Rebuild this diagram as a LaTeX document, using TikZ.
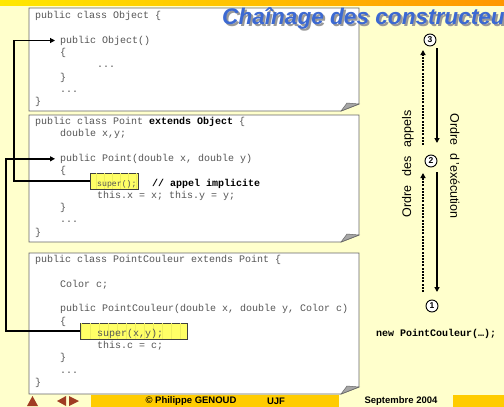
\documentclass[tikz,border=0pt]{standalone}
\usepackage{fontspec}
\setmainfont{Liberation Sans}
\setmonofont{Liberation Mono}
\usetikzlibrary{arrows.meta,calc}
\definecolor{bg}{RGB}{255,255,204}
\definecolor{topy}{RGB}{255,232,0}
\definecolor{topo}{RGB}{255,150,0}
\definecolor{footy}{RGB}{255,204,0}
\definecolor{codegray}{RGB}{85,85,85}
\definecolor{titleblue}{RGB}{60,105,210}
\definecolor{hlfill}{RGB}{255,255,102}
\definecolor{hlgrid}{RGB}{238,238,95}
\definecolor{navred}{RGB}{160,60,35}
\begin{document}
\begin{tikzpicture}[x=1pt,y=-1pt,
  code/.style={anchor=base west,inner sep=0pt,font=\ttfamily\fontsize{10}{12}\selectfont,text=codegray},
  codeb/.style={anchor=base west,inner sep=0pt,font=\ttfamily\bfseries\fontsize{10}{12}\selectfont,text=black},
  boxline/.style={draw=black!60,line width=0.9pt,fill=white},
  fold/.style={fill=black!35,draw=black!60,line width=0.5pt},
  hlbox/.style={draw=black!75,line width=0.8pt,fill=hlfill,inner sep=0pt},
  conn/.style={line width=1.6pt,-{Triangle[length=5pt,width=5pt]}},
  callarr/.style={line width=2pt,dash pattern=on 2pt off 1.2pt,-{Triangle[length=5pt,width=5pt]}},
  execarr/.style={line width=1.6pt,-{Triangle[length=5pt,width=5pt]}},
  num/.style={circle,draw,line width=0.9pt,fill=white,inner sep=0pt,minimum size=12pt,font=\bfseries\fontsize{8.5}{10}\selectfont},
  lbl/.style={inner sep=0pt,font=\fontsize{12.5}{14}\selectfont},
  titlefont/.style={anchor=base west,inner sep=0pt,font=\bfseries\itshape\fontsize{22.6}{26}\selectfont},
  foot/.style={inner sep=0pt,font=\bfseries\fontsize{9.5}{11}\selectfont}]
\useasboundingbox (0,0) rectangle (504,407);
\clip (0,0) rectangle (504,407);
\fill[bg] (0,0) rectangle (504,407);
\shade[left color=topy,right color=topo] (0,0) rectangle (504,5);

% code boxes
\draw[boxline] (29,8) -- (359,8) -- (359,104) -- (341,111) -- (29,111) -- cycle;
\draw[fold] (341,111) -- (359,104) -- (347,103) -- cycle;
\draw[boxline] (29,115) -- (359,115) -- (359,235) -- (341,242) -- (29,242) -- cycle;
\draw[fold] (341,242) -- (359,235) -- (347,234) -- cycle;
\draw[boxline] (29,253) -- (359,253) -- (359,387) -- (341,394) -- (29,394) -- cycle;
\draw[fold] (341,394) -- (359,387) -- (347,386) -- cycle;

% title (over box 1)
\node[titlefont,text=black!40] (titleshadow) at (224,26.5) {Chaînage des constructeurs};
\node[titlefont,text=titleblue] (title) at (222,24.5) {Chaînage des constructeurs};

% box 1
\node[code] (b1l1) at (35,18.5) {public class Object \{};
\node[code] (b1l2) at (60,43.1) {public Object()};
\node[code] (b1l3) at (60,55.4) {\{};
\node[code] (b1l4) at (97,67.7) {...};
\node[code] (b1l5) at (60,80) {\}};
\node[code] (b1l6) at (60,92.3) {...};
\node[code] (b1l7) at (35,104.5) {\}};

% box 2
\node[code] (b2l1) at (35,124.5) {public class Point \textbf{\textcolor{black}{extends Object}} \{};
\node[code] (b2l2) at (60,136.8) {double x,y;};
\node[code] (b2l3) at (60,161.4) {public Point(double x, double y)};
\node[code] (b2l4) at (60,173.7) {\{};
\node[hlbox,minimum width=48pt,minimum height=16pt] (hl2) at (114,181) {};
\draw[hlgrid,line width=0.3pt,step=8] ([shift={(0.5,-0.5)}]hl2.south west) grid ([shift={(-0.5,0.5)}]hl2.north east);
\node[anchor=base west,inner sep=0pt,font=\ttfamily\fontsize{8.2}{10}\selectfont,text=codegray] (sup2) at (97,186) {super();};
\node[codeb] (cmt) at (152,186) {// appel implicite};
\node[code] (b2l6) at (97,198.3) {this.x = x; this.y = y;};
\node[code] (b2l7) at (60,210.6) {\}};
\node[code] (b2l8) at (60,222.9) {...};
\node[code] (b2l9) at (35,235.2) {\}};

% box 3
\node[code] (b3l1) at (35,262.5) {public class PointCouleur extends Point \{};
\node[code] (b3l2) at (60,287.1) {Color c;};
\node[code] (b3l3) at (60,311.7) {public PointCouleur(double x, double y, Color c)};
\node[code] (b3l4) at (60,324) {\{};
\node[hlbox,minimum width=107pt,minimum height=16pt] (hl3) at (133.5,331) {};
\draw[hlgrid,line width=0.3pt,step=9] ([shift={(0.5,-0.5)}]hl3.south west) grid ([shift={(-0.5,0.5)}]hl3.north east);
\node[code] (sup3) at (97,336.3) {super(x,y);};
\node[code] (b3l6) at (97,348.6) {this.c = c;};
\node[code] (b3l7) at (60,360.9) {\}};
\node[code] (b3l8) at (60,373.2) {...};
\node[code] (b3l9) at (35,385.5) {\}};

% connectors
\coordinate (k1) at (14,0);
\coordinate (k2) at (6,0);
\draw[conn] (hl2.west) -- (hl2.west -| k1) |- ([xshift=-5pt]b1l2.west);
\draw[conn] (hl3.west) -- (hl3.west -| k2) |- ([xshift=-5pt]b2l3.west);

% order diagram
\node[num] (n3) at (430,40) {3};
\node[num] (n2) at (431,161) {2};
\node[num] (n1) at (432,306) {1};
\draw[callarr] ([shift={(-9,-14)}]n1.center) -- ([shift={(-8,12)}]n2.center);
\draw[callarr] ([shift={(-8,-16)}]n2.center) -- ([shift={(-7,10)}]n3.center);
\draw[execarr] ([shift={(7,8)}]n3.center) -- ([shift={(6,-18)}]n2.center);
\draw[execarr] ([shift={(6,11)}]n2.center) -- ([shift={(5,-14)}]n1.center);
\node[lbl,rotate=90] (calls) at (408,164) {Ordre\hspace{9pt}des\hspace{9pt}appels};
\node[lbl,rotate=-90] (exec) at (455,166) {Ordre\hspace{8pt}d\hspace{2pt}'exécution};
\node[codeb] (newpc) at (376,336.5) {new PointCouleur(…);};

% footer
\fill[footy] (91,395) rectangle (339,407);
\fill[footy] (453,395) rectangle (504,407);
\fill[navred] (27,406) -- (38,406) -- (32.5,396) -- cycle;
\fill[navred] (57,401) -- (66,396) -- (66,406) -- cycle;
\fill[navred] (69,396) -- (69,406) -- (79,401) -- cycle;
\node[foot] (f1) at (191,401) {© Philippe GENOUD};
\node[foot] (f2) at (276,401) {UJF};
\node[foot] (f3) at (401,401) {Septembre 2004};
\end{tikzpicture}
\end{document}
